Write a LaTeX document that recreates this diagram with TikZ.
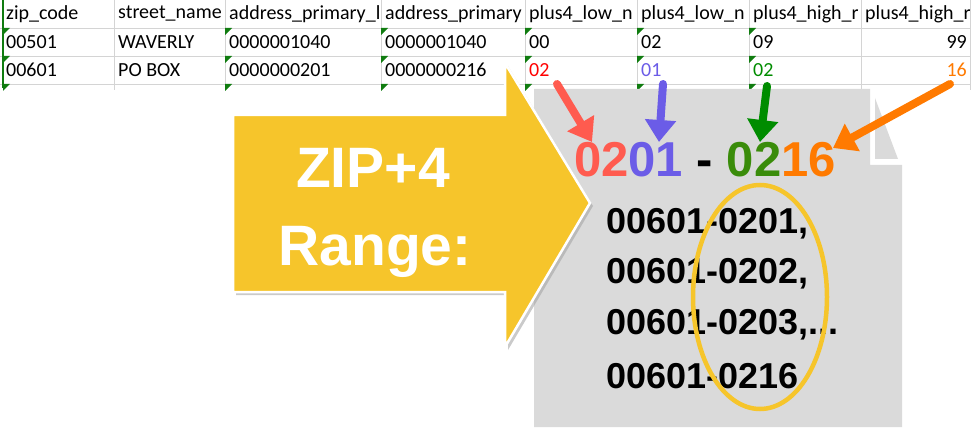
\documentclass[tikz,border=0pt]{standalone}
\usepackage{fontspec}
\setmainfont{Liberation Sans}
\newfontfamily\cellfont{Carlito}
\usetikzlibrary{arrows.meta}
\definecolor{yel}{HTML}{F6C52B}
\definecolor{gry}{HTML}{DADADA}
\definecolor{cred}{HTML}{FF5B4F}
\definecolor{cblue}{HTML}{6B5CE7}
\definecolor{cgreen}{HTML}{3A8C0A}
\definecolor{corange}{HTML}{FF7A00}
\definecolor{grid}{HTML}{D4D4D4}
\definecolor{xlgreen}{HTML}{107C10}
\begin{document}
\begin{tikzpicture}[x=1pt,y=-1pt,
  cell/.style={anchor=west,font=\cellfont\fontsize{20}{20}\selectfont,inner sep=0pt},
  cellr/.style={anchor=east,font=\cellfont\fontsize{20}{20}\selectfont,inner sep=0pt},
  big/.style={font=\bfseries\fontsize{36}{36}\selectfont,inner sep=0pt,anchor=west},
  ptr/.style={line width=8pt,line cap=round,-{Triangle[width=30pt,length=22pt]}}]
\useasboundingbox (0,0) rectangle (975,433);
% table grid
\foreach \y in {28,56,84} \draw[grid] (0,\y) -- (970,\y);
\foreach \x in {114,225,381,525,637,749,861,970} \draw[grid] (\x,0) -- (\x,90);
\draw[xlgreen,line width=1.5pt] (3,0) -- (3,88);
\foreach \x in {3,225,381,525,637,749} \foreach \y in {28,56,84}
  \fill[xlgreen] (\x,\y) -- ++(7,0) -- ++(-7,7) -- cycle;
\node[cell] (h1) at (6,14) {zip\_code};
\node[cell] (a1) at (6,42) {00501};
\node[cell] (b1) at (6,70) {00601};
\node[cell] (h2) at (118,14) {street\_name};
\node[cell] (a2) at (118,42) {WAVERLY};
\node[cell] (b2) at (118,70) {PO BOX};
\node[cell] (h3) at (229,14) {address\_primary\_l};
\node[cell] (a3) at (229,42) {0000001040};
\node[cell] (b3) at (229,70) {0000000201};
\node[cell] (h4) at (385,14) {address\_primary};
\node[cell] (a4) at (385,42) {0000001040};
\node[cell] (b4) at (385,70) {0000000216};
\node[cell] (h5) at (529,14) {plus4\_low\_n};
\node[cell] (a5) at (529,42) {00};
\node[cell,text=red] (b5) at (529,70) {02};
\node[cell] (h6) at (641,14) {plus4\_low\_n};
\node[cell] (a6) at (641,42) {02};
\node[cell,text=cblue] (b6) at (641,70) {01};
\node[cell] (h7) at (753,14) {plus4\_high\_r};
\node[cell] (a7) at (753,42) {09};
\node[cell,text=green!55!black] (b7) at (753,70) {02};
\node[cell] (h8) at (865,14) {plus4\_high\_r};
\node[cellr] (a8) at (967,42) {99};
\node[cellr,text=corange] (b8) at (967,70) {16};
% gray panel
\fill[gry] (534,89) -- (870,89) -- (870,165) -- (902,165) -- (902,427) -- (534,427) -- cycle;
\fill[gry] (875,98) -- (875,159) -- (898,159) -- cycle;
% yellow arrow
\fill[black!35,opacity=0.6] (236,118) -- (508,118) -- (508,66) -- (593,206) -- (508,350) -- (508,295) -- (236,295) -- cycle;
\draw[white,line width=2.5pt,fill=yel] (233,115) -- (505,115) -- (505,63) -- (590,203) -- (505,347) -- (505,292) -- (233,292) -- cycle;
\node[font=\bfseries\fontsize{57}{57}\selectfont,text=white] (zip) at (373,168) {ZIP+4};
\node[font=\bfseries\fontsize{57}{57}\selectfont,text=white] (rng) at (375,252) {Range:};
% range text
\node[font=\bfseries\fontsize{49}{49}\selectfont,inner sep=0pt,anchor=west] (rg) at (574,160)
  {\textcolor{cred}{02}\textcolor{cblue}{01} - \textcolor{cgreen}{02}\textcolor{corange}{16}};
\coordinate (tr) at (592,142);
\coordinate (tb) at (659,142);
\coordinate (tg) at (760,142);
\coordinate (to) at (833,148);
\draw[ptr,cred] (557,84) -- (tr);
\draw[ptr,cblue] (663,84) -- (tb);
\draw[ptr,green!55!black] (767,86) -- (tg);
\draw[ptr,corange] (950,84) -- (to);
\node[big] (l1) at (606,224) {00601-0201,};
\node[big] (l2) at (606,274) {00601-0202,};
\node[big] (l3) at (606,325) {00601-0203,...};
\node[big] (l4) at (606,376) {00601-0216};
\draw[yel,line width=4.5pt] (760,297) ellipse [x radius=67, y radius=112];
\end{tikzpicture}
\end{document}
